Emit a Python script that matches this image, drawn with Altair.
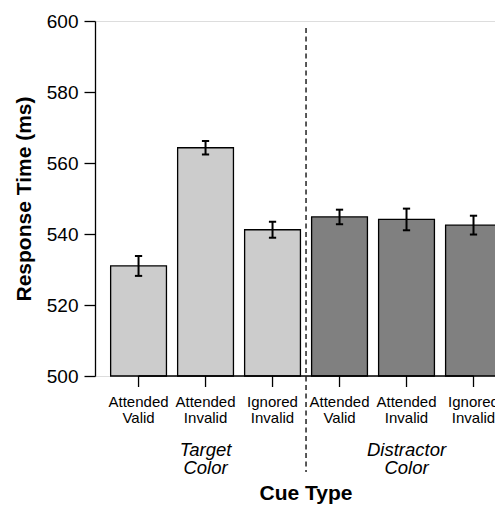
import altair as alt
import pandas as pd

# ---- data ----
cue_labels = ["Attended\nValid", "Attended\nInvalid", "Ignored\nInvalid",
              "Attended\nValid", "Attended\nInvalid", "Ignored\nInvalid"]
groups = ["Target\nColor", "Target\nColor", "Target\nColor",
          "Distractor\nColor", "Distractor\nColor", "Distractor\nColor"]
rt_means = [531.0, 564.3, 541.2, 544.8, 544.1, 542.5]
rt_se = [2.8, 1.9, 2.25, 2.05, 3.05, 2.65]
y_ticks = [500, 520, 540, 560, 580, 600]

group_names = ["Target\nColor", "Distractor\nColor"]

FONT = "Liberation Sans, Arial, Helvetica, sans-serif"
LIGHT = "#cccccc"
DARK = "#808080"

# barplot layout: bar width 1, space 0.2 (R style)
pos = [1.2 * (i + 1) - 0.5 for i in range(len(rt_means))]

df = pd.DataFrame({
    "pos": pos,
    "label": cue_labels,
    "group": groups,
    "rt": rt_means,
    "se": rt_se,
})

gdf = pd.DataFrame({
    "group": group_names,
    "pos": [sum(pos[0:3]) / 3, sum(pos[3:6]) / 3],
})

sep_df = pd.DataFrame({"pos": [(pos[2] + pos[3]) / 2]})
axis_df = pd.DataFrame({"x1": [pos[0]], "x2": [pos[-1]], "y": [500]})
title_df = pd.DataFrame({"pos": [(pos[2] + pos[3]) / 2], "t": ["Cue Type"]})

xscale = alt.Scale(domain=[-0.08, 7.085], nice=False, zero=False)
yscale = alt.Scale(domain=[500, 600], nice=False, zero=False)

base = alt.Chart(df)

bars = base.transform_calculate(
    left="datum.pos - 0.5", right="datum.pos + 0.5", base="500"
).mark_bar(stroke="black", strokeWidth=1.3, opacity=1).encode(
    x=alt.X("left:Q", scale=xscale, axis=None),
    x2="right:Q",
    y=alt.Y("rt:Q", scale=yscale,
            axis=alt.Axis(values=y_ticks, title="Response Time (ms)",
                          grid=False, tickSize=11, tickWidth=1.3,
                          tickColor="black", domainColor="black",
                          domainWidth=1.3, labelFontSize=19,
                          labelFont=FONT, labelColor="black",
                          labelPadding=6, titleFont=FONT,
                          titleFontSize=21, titleFontWeight="bold",
                          titleColor="black", titlePadding=12)),
    y2="base:Q",
    color=alt.Color("group:N", scale=alt.Scale(domain=group_names,
                                                range=[LIGHT, DARK]),
                    legend=None),
)

err = base.transform_calculate(
    lo="datum.rt - datum.se", hi="datum.rt + datum.se"
).mark_rule(color="black", strokeWidth=2).encode(
    x="pos:Q", y="lo:Q", y2="hi:Q"
)

caps_hi = base.transform_calculate(
    a="datum.pos - 0.065", b="datum.pos + 0.065", v="datum.rt + datum.se"
).mark_rule(color="black", strokeWidth=2).encode(x="a:Q", x2="b:Q", y="v:Q")

caps_lo = base.transform_calculate(
    a="datum.pos - 0.065", b="datum.pos + 0.065", v="datum.rt - datum.se"
).mark_rule(color="black", strokeWidth=2).encode(x="a:Q", x2="b:Q", y="v:Q")

xaxis_line = alt.Chart(axis_df).mark_rule(color="black", strokeWidth=1.3).encode(
    x="x1:Q", x2="x2:Q", y="y:Q"
)

xticks = base.transform_calculate(b="500").mark_rule(
    color="black", strokeWidth=1.3
).encode(x="pos:Q", y="b:Q", y2=alt.value(366))

xlabels = base.mark_text(font=FONT, fontSize=15, lineBreak="\n",
                         lineHeight=16, baseline="alphabetic",
                         color="black").encode(
    x="pos:Q", y=alt.value(386), text="label:N"
)

glabels = alt.Chart(gdf).mark_text(font=FONT, fontSize=18.5, fontStyle="italic",
                                   lineBreak="\n", lineHeight=17.5,
                                   baseline="alphabetic",
                                   color="black").encode(
    x="pos:Q", y=alt.value(435), text="group:N"
)

sep = alt.Chart(sep_df).mark_rule(color="black", strokeWidth=1.3,
                                  strokeDash=[5, 3.5]).encode(
    x="pos:Q", y=alt.value(7), y2=alt.value(451)
)

xtitle = alt.Chart(title_df).mark_text(font=FONT, fontSize=21,
                                       fontWeight="bold",
                                       baseline="alphabetic",
                                       color="black").encode(
    x="pos:Q", y=alt.value(479), text="t:N"
)

chart = alt.layer(
    bars, err, caps_hi, caps_lo, xaxis_line, xticks, xlabels, glabels, sep,
    xtitle
).properties(
    width=400, height=355,
    autosize=alt.AutoSizeParams(type="none"),
    padding={"left": 87, "top": 13, "right": 0, "bottom": 129},
).configure_view(stroke=None).configure(background="white")

chart.save("out.html", embed_options={"renderer": "svg", "actions": False})
